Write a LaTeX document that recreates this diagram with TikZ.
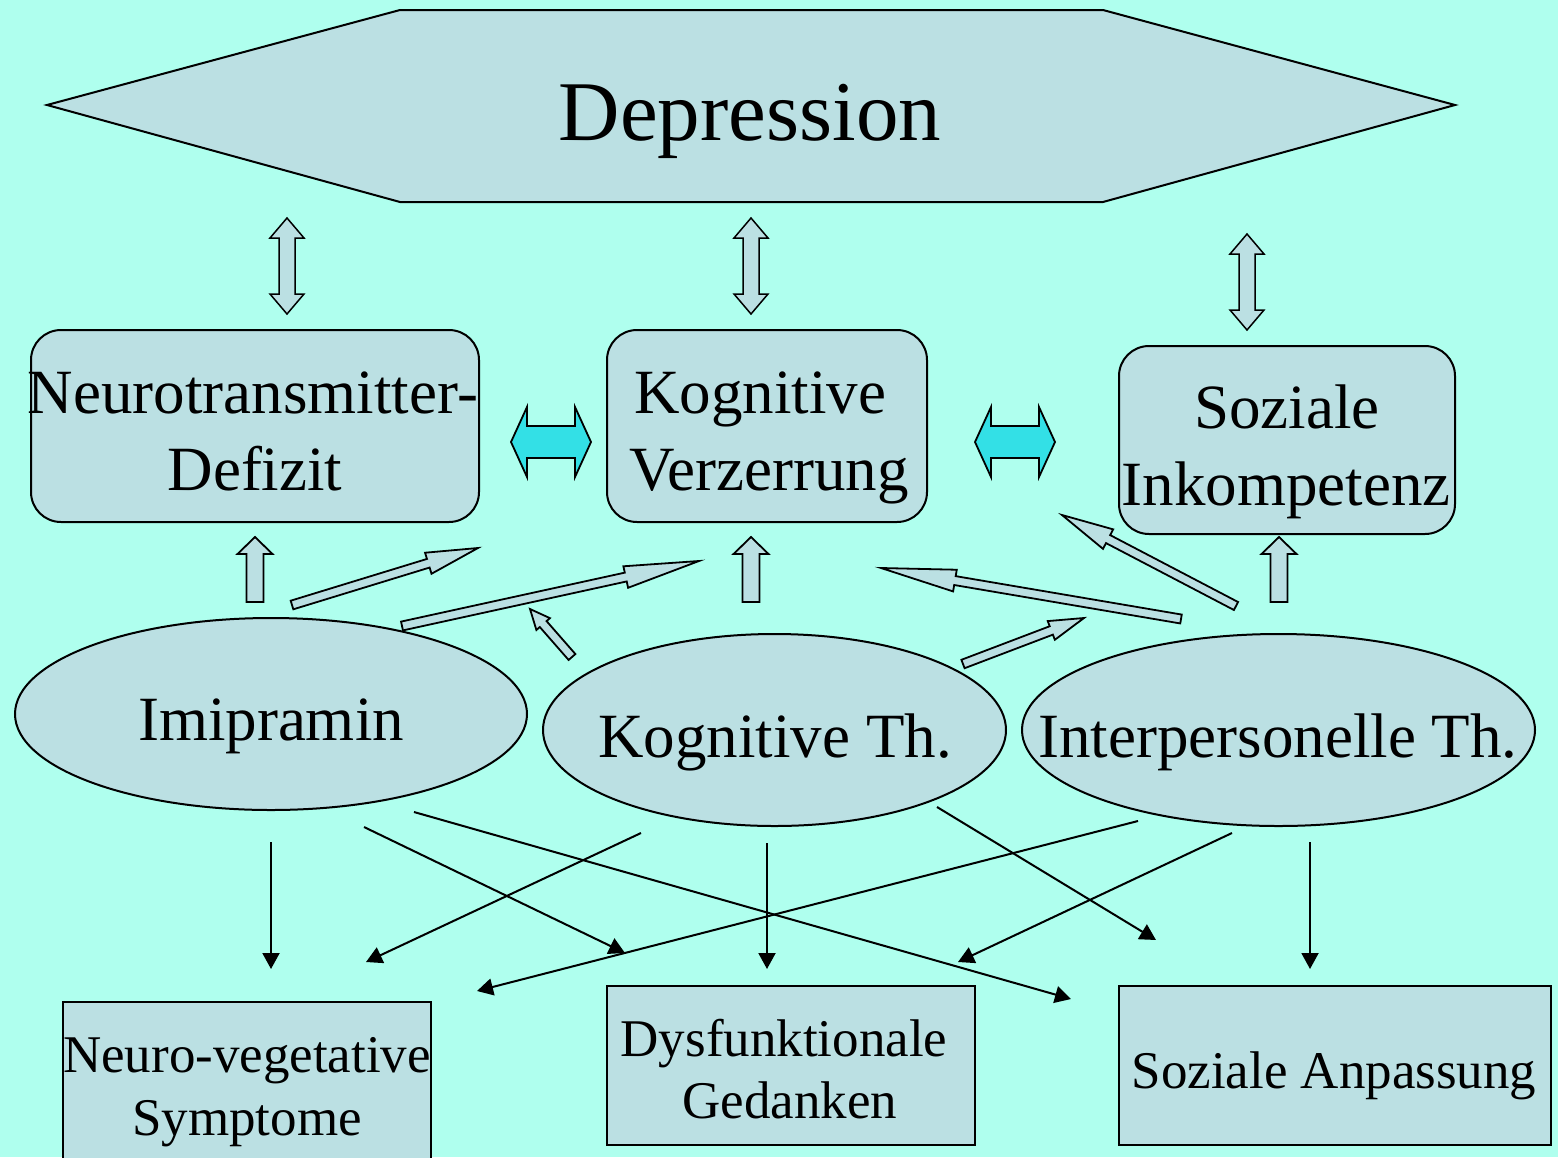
\documentclass[tikz,border=0pt]{standalone}
\usepackage{fontspec}
\setmainfont{Liberation Serif}
\usetikzlibrary{calc,shapes.geometric,arrows.meta}
\definecolor{bg}{RGB}{175,255,238}
\definecolor{boxfill}{RGB}{187,224,227}
\definecolor{cyanarr}{RGB}{51,224,230}
\tikzset{
  blockstyle/.style={draw=black,fill=boxfill,line width=1.8pt,line join=miter},
  rbox/.style={draw=black,fill=boxfill,line width=2pt,rounded corners=30pt,inner sep=0pt},
  sbox/.style={draw=black,fill=boxfill,line width=2pt,inner sep=0pt},
  ell/.style={ellipse,draw=black,fill=boxfill,line width=2pt,inner sep=0pt},
  lbl/.style={anchor=base,inner sep=0pt,font=\fontsize{63}{75}\selectfont},
  slbl/.style={anchor=base,inner sep=0pt,font=\fontsize{53}{63}\selectfont},
  thinarr/.style={line width=2pt,-{Triangle[length=16pt,width=17pt]}},
}
\newcommand\blockarr[6][]{%
  \coordinate (hb) at ($(#3)!#6!(#2)$);
  \draw[blockstyle,#1] ($(#2)!#4!90:(#3)$) -- ($(hb)!#4!90:(#3)$) -- ($(hb)!#5!90:(#3)$) -- (#3)
     -- ($(hb)!#5!-90:(#3)$) -- ($(hb)!#4!-90:(#3)$) -- ($(#2)!#4!-90:(#3)$) -- cycle;}
\newcommand\dblockarr[6][]{%
  \coordinate (ha) at ($(#2)!#6!(#3)$);
  \coordinate (hb) at ($(#3)!#6!(#2)$);
  \draw[blockstyle,#1] (#2) -- ($(ha)!#5!90:(#3)$) -- ($(ha)!#4!90:(#3)$) -- ($(hb)!#4!90:(#3)$)
     -- ($(hb)!#5!90:(#3)$) -- (#3) -- ($(hb)!#5!-90:(#3)$) -- ($(hb)!#4!-90:(#3)$)
     -- ($(ha)!#4!-90:(#3)$) -- ($(ha)!#5!-90:(#3)$) -- cycle;}
\begin{document}
\begin{tikzpicture}[x=1pt,y=-1pt]
\fill[bg] (0,0) rectangle (1558,1157);
\useasboundingbox (0,0) rectangle (1558,1157);
\clip (0,0) rectangle (1558,1157);

% Depression hexagon
\draw[blockstyle,line width=2pt] (47,105) -- (400,10) -- (1103,10) -- (1455,105) -- (1103,202) -- (400,202) -- cycle;
\node[anchor=base,inner sep=0pt,font=\fontsize{85}{100}\selectfont] (dep) at (750,140) {Depression};

% vertical double arrows
\coordinate (v1a) at (287,218); \coordinate (v1b) at (287,314);
\coordinate (v2a) at (751,218); \coordinate (v2b) at (751,314);
\coordinate (v3a) at (1247,234); \coordinate (v3b) at (1247,330);
\dblockarr[line width=1.5pt]{v1a}{v1b}{8pt}{17pt}{20pt}
\dblockarr[line width=1.5pt]{v2a}{v2b}{8pt}{17pt}{20pt}
\dblockarr[line width=1.5pt]{v3a}{v3b}{8pt}{17pt}{20pt}

% rounded boxes
\node[rbox,minimum width=448pt,minimum height=192pt] (nd) at (255,426) {};
\node[rbox,minimum width=320pt,minimum height=192pt] (kv) at (767,426) {};
\node[rbox,minimum width=336pt,minimum height=188pt] (si) at (1287,440) {};
\node[lbl] (nd1) at (253,413) {Neurotransmitter-};
\node[lbl] (nd2) at (255,490) {Defizit};
\node[lbl] (kv1) at (760,413) {Kognitive};
\node[lbl] (kv2) at (769,490) {Verzerrung};
\node[lbl] (si1) at (1287,428) {Soziale};
\node[lbl] (si2) at (1286,505) {Inkompetenz};

% cyan double arrows
\coordinate (h1a) at (511,442); \coordinate (h1b) at (591,442);
\coordinate (h2a) at (975,442); \coordinate (h2b) at (1055,442);
\dblockarr[fill=cyanarr]{h1a}{h1b}{16pt}{35pt}{16pt}
\dblockarr[fill=cyanarr]{h2a}{h2b}{16pt}{35pt}{16pt}

% up arrows
\coordinate (u1a) at (255,602); \coordinate (u1b) at (255,537);
\coordinate (u2a) at (751,602); \coordinate (u2b) at (751,537);
\coordinate (u3a) at (1279,602); \coordinate (u3b) at (1279,537);
\blockarr{u1a}{u1b}{8.5pt}{17.5pt}{17pt}
\blockarr{u2a}{u2b}{8.5pt}{17.5pt}{17pt}
\blockarr{u3a}{u3b}{8.5pt}{17.5pt}{17pt}

% slanted arrows
\coordinate (sAa) at (292,605); \coordinate (sAb) at (478,548);
\coordinate (sBa) at (402,626); \coordinate (sBb) at (699,561);
\coordinate (sCa) at (572,657); \coordinate (sCb) at (530,609);
\coordinate (sDa) at (1181,619); \coordinate (sDb) at (881,568);
\coordinate (sEa) at (1236,606); \coordinate (sEb) at (1062,515);
\coordinate (sFa) at (963,664); \coordinate (sFb) at (1084,618);
\blockarr{sAa}{sAb}{4.5pt}{11pt}{52pt}
\blockarr{sBa}{sBb}{4.5pt}{11pt}{75pt}
\blockarr{sCa}{sCb}{4.5pt}{9pt}{20pt}
\blockarr{sDa}{sDb}{4.5pt}{11pt}{75pt}
\blockarr{sEa}{sEb}{4.5pt}{11pt}{52pt}
\blockarr{sFa}{sFb}{4.5pt}{10pt}{35pt}

% ellipses
\node[ell,minimum width=512pt,minimum height=192pt] (imi) at (271,714) {};
\node[ell,minimum width=463pt,minimum height=192pt] (kth) at (774.5,730) {};
\node[ell,minimum width=513pt,minimum height=192pt] (ith) at (1278.5,730) {};
\node[lbl] (imit) at (271,740) {Imipramin};
\node[lbl] (ktht) at (775,757) {Kognitive Th.};
\node[lbl] (itht) at (1278,757) {Interpersonelle Th.};

% bottom boxes
\node[sbox,minimum width=368pt,minimum height=170pt] (nv) at (247,1087) {};
\node[sbox,minimum width=368pt,minimum height=159pt] (dg) at (791,1065.5) {};
\node[sbox,minimum width=432pt,minimum height=159pt] (sa) at (1335,1065.5) {};
\node[slbl] (nv1) at (247,1072) {Neuro-vegetative};
\node[slbl] (nv2) at (247,1135) {Symptome};
\node[slbl] (dg1) at (784,1056) {Dysfunktionale};
\node[slbl] (dg2) at (790,1118) {Gedanken};
\node[slbl] (sa1) at (1334,1088) {Soziale Anpassung};

% thin arrows
\coordinate (t1a) at (271,842); \coordinate (t1b) at (271,969);
\coordinate (t2a) at (364,827); \coordinate (t2b) at (625,953);
\coordinate (t3a) at (414,812); \coordinate (t3b) at (1071,999);
\coordinate (t4a) at (641,833); \coordinate (t4b) at (366,962);
\coordinate (t5a) at (767,843); \coordinate (t5b) at (767,969);
\coordinate (t6a) at (1138,821); \coordinate (t6b) at (477,991);
\coordinate (t7a) at (937,807); \coordinate (t7b) at (1156,940);
\coordinate (t8a) at (1232,833); \coordinate (t8b) at (958,962);
\coordinate (t9a) at (1310,842); \coordinate (t9b) at (1310,969);
\foreach \i in {1,...,9} {\draw[thinarr] (t\i a) -- (t\i b);}
\end{tikzpicture}
\end{document}
